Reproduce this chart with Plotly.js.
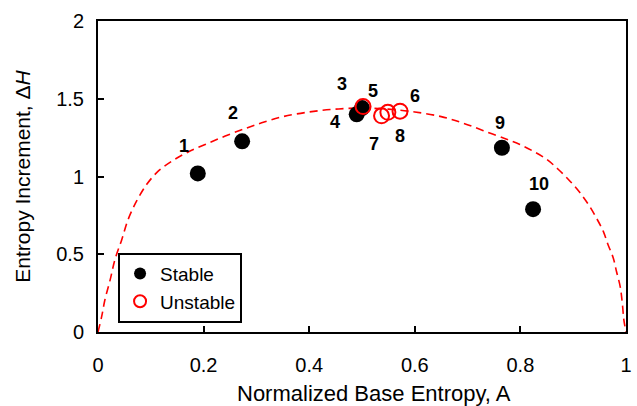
<!DOCTYPE html>
<html>
<head>
<meta charset="utf-8">
<script src="https://cdn.plot.ly/plotly-3.0.1.min.js"></script>
<style>html,body{margin:0;padding:0;background:#fff}#chart{width:637px;height:406px}</style>
</head>
<body>
<div id="chart"></div>
<script>
// Stable (filled black) points
const stableLabels = ["1", "2", "3", "4", "9", "10"];
const stableA = [0.189, 0.273, 0.500, 0.490, 0.765, 0.824];
const stableH = [1.02, 1.226, 1.44, 1.40, 1.185, 0.79];

// Unstable (open red) points
const unstableLabels = ["5", "6", "7", "8"];
const unstableA = [0.502, 0.572, 0.537, 0.549];
const unstableH = [1.45, 1.42, 1.39, 1.413];

// Dashed envelope curve
const curveA = [0, 0.007, 0.013, 0.023, 0.032, 0.045, 0.057, 0.073, 0.092, 0.114, 0.140, 0.168, 0.203, 0.241, 0.28, 0.31, 0.35, 0.4, 0.45, 0.5, 0.55, 0.6, 0.65, 0.69, 0.73, 0.774, 0.799, 0.824, 0.850, 0.872, 0.894, 0.913, 0.929, 0.944, 0.957, 0.966, 0.976, 0.982, 0.989, 0.993, 0.996, 1];
const curveH = [0, 0.10, 0.206, 0.335, 0.465, 0.594, 0.723, 0.841, 0.948, 1.034, 1.099, 1.153, 1.206, 1.26, 1.31, 1.345, 1.385, 1.415, 1.433, 1.44, 1.433, 1.415, 1.385, 1.345, 1.295, 1.239, 1.206, 1.163, 1.110, 1.045, 0.970, 0.895, 0.819, 0.733, 0.647, 0.561, 0.475, 0.389, 0.292, 0.185, 0.077, 0];

// Label offsets (pixels) from each point, by label
const labelOffsets = {
  "1": [-14, -27], "2": [-9, -28], "3": [-20, -24], "4": [-22, 8],
  "5": [10, -16], "6": [15, -15], "7": [-8, 28], "8": [12, 24],
  "9": [-2, -25], "10": [6, -25]
};

const xTitle = "Normalized Base Entropy, A";
const yTitle = "Entropy Increment, Δ<i>H</i>";

const font = "Liberation Sans, Arial, sans-serif";

const traces = [
  {
    x: curveA, y: curveH, mode: "lines", type: "scatter",
    line: {color: "#ff0000", dash: "8px,5px", width: 1.6, shape: "spline", smoothing: 1},
    showlegend: false, hoverinfo: "skip"
  },
  {
    x: stableA, y: stableH, mode: "markers", type: "scatter", name: "Stable",
    marker: {color: "#000000", size: 16, line: {width: 0}}
  },
  {
    x: unstableA, y: unstableH, mode: "markers", type: "scatter", name: "Unstable",
    marker: {color: "#ff0000", size: 15, symbol: "circle-open", line: {color: "#ff0000", width: 2}}
  }
];

const annotations = [];
function addLabels(labels, xs, ys) {
  labels.forEach((t, i) => {
    const off = labelOffsets[t];
    annotations.push({
      x: xs[i], y: ys[i], xref: "x", yref: "y", text: "<b>" + t + "</b>",
      showarrow: true, arrowcolor: "rgba(0,0,0,0)", arrowwidth: 0.1,
      ax: off[0], ay: off[1], standoff: 0,
      font: {family: font, size: 18, color: "#000"}
    });
  });
}
addLabels(stableLabels, stableA, stableH);
addLabels(unstableLabels, unstableA, unstableH);

// x-axis title (slightly right of centre, as in the reference)
annotations.push({
  text: xTitle, xref: "paper", yref: "paper", x: 0.523, y: -0.198,
  xanchor: "center", yanchor: "middle", showarrow: false,
  font: {family: font, size: 22, color: "#000"}
});

const layout = {
  width: 637, height: 406,
  margin: {l: 98, r: 11, t: 21, b: 74},
  paper_bgcolor: "#fff", plot_bgcolor: "#fff",
  font: {family: font, size: 20, color: "#000"},
  xaxis: {
    range: [0, 1], tickvals: [0, 0.2, 0.4, 0.6, 0.8, 1],
    ticktext: ["0", "0.2", "0.4", "0.6", "0.8", "1"],
    showgrid: false, zeroline: false,
    showline: true, linecolor: "#000", linewidth: 2, mirror: true,
    ticks: "inside", ticklen: 6, tickwidth: 2, tickcolor: "#000",
    ticklabelstandoff: 14,
    tickfont: {size: 20, family: font}
  },
  yaxis: {
    range: [0, 2], tickvals: [0, 0.5, 1, 1.5, 2],
    ticktext: ["0", "0.5", "1", "1.5", "2"],
    showgrid: false, zeroline: false,
    showline: true, linecolor: "#000", linewidth: 2, mirror: true,
    ticks: "inside", ticklen: 6, tickwidth: 2, tickcolor: "#000",
    ticklabelstandoff: 8,
    tickfont: {size: 20, family: font},
    title: {text: yTitle, font: {size: 21, family: font}, standoff: 20}
  },
  legend: {
    x: 0.038, y: 0.255, xanchor: "left", yanchor: "top",
    bgcolor: "#fff", bordercolor: "#000", borderwidth: 2,
    font: {size: 19, family: font}, itemsizing: "constant",
    tracegroupgap: 0
  },
  annotations: annotations
};

Plotly.newPlot("chart", traces, layout, {displayModeBar: false, staticPlot: true});
</script>
</body>
</html>
